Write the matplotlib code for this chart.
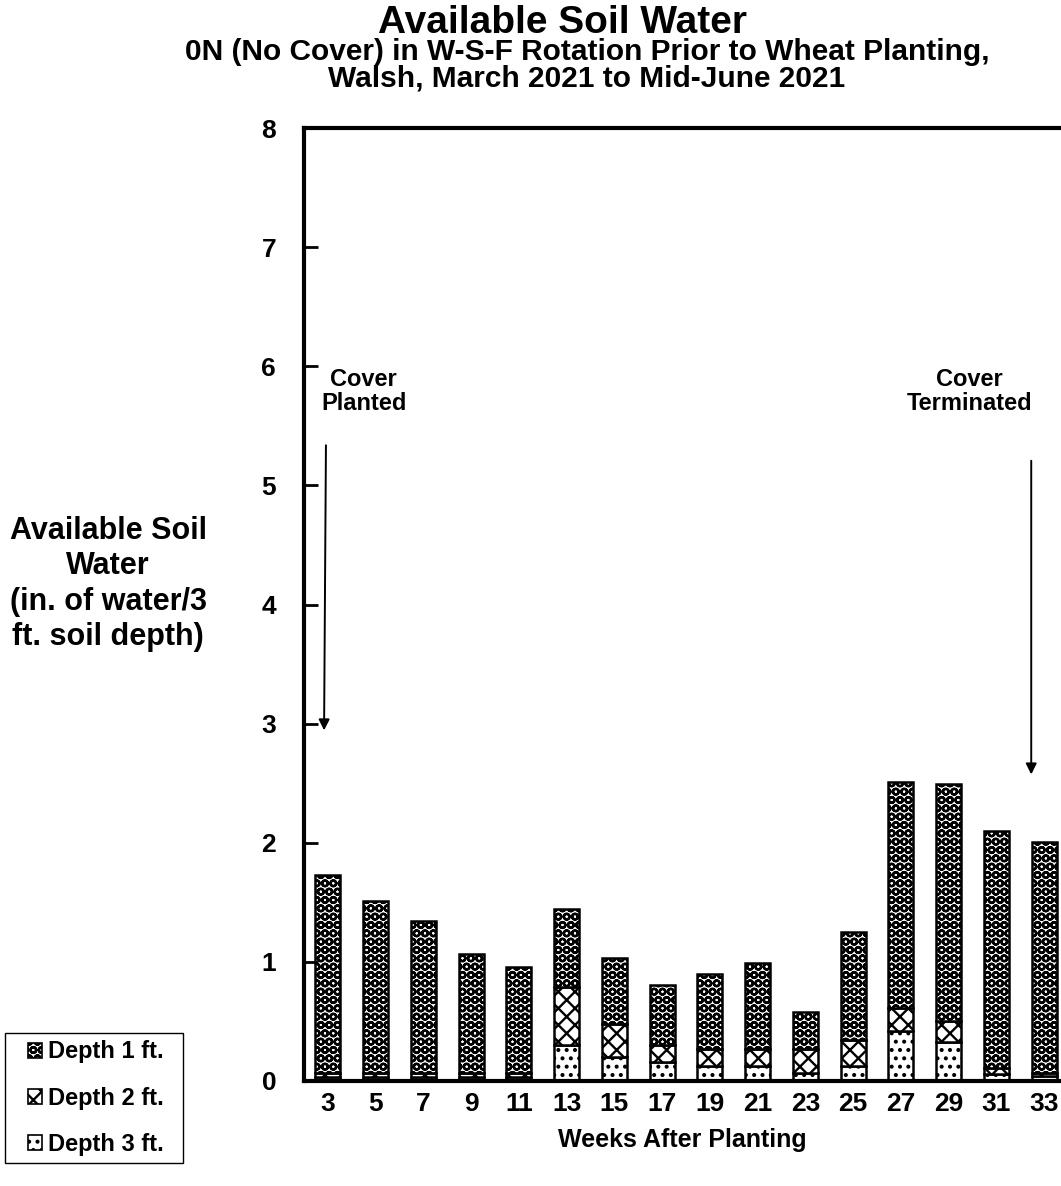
import matplotlib
matplotlib.use("Agg")
import matplotlib.pyplot as plt
from matplotlib.patches import Patch, Rectangle
import numpy as np

plt.rcParams['font.family'] = ['Liberation Sans', 'DejaVu Sans']
plt.rcParams['font.weight'] = 'bold'
plt.rcParams['hatch.linewidth'] = 1.7

# Weeks after planting and available soil water (in.) per depth layer
weeks = ["3", "5", "7", "9", "11", "13", "15", "17", "19", "21", "23", "25", "27", "29", "31", "33"]
depth3 = [0.03, 0.03, 0.03, 0.03, 0.03, 0.30, 0.20, 0.16, 0.13, 0.13, 0.07, 0.13, 0.42, 0.33, 0.06, 0.04]
depth2 = [0.04, 0.04, 0.04, 0.04, 0.04, 0.49, 0.28, 0.14, 0.14, 0.14, 0.20, 0.21, 0.19, 0.17, 0.05, 0.03]
depth1 = [1.66, 1.44, 1.27, 1.00, 0.89, 0.65, 0.55, 0.51, 0.63, 0.72, 0.31, 0.91, 1.90, 1.99, 1.99, 1.94]

series_names = ["Depth 1 ft.", "Depth 2 ft.", "Depth 3 ft."]
hatches = {"Depth 1 ft.": "OO", "Depth 2 ft.": "xx", "Depth 3 ft.": ".."}

W, H = 1061, 1186
fig = plt.figure(figsize=(W / 100, H / 100), dpi=100)
ax = fig.add_axes([304 / W, (H - 1081) / H, 764 / W, 953 / H])

x = np.arange(len(weeks))
bw = 0.52
d3 = np.array(depth3)
d2 = np.array(depth2)
d1 = np.array(depth1)
ax.bar(x, d3, bw, color="white", edgecolor="black", linewidth=1.8, hatch=hatches["Depth 3 ft."])
ax.bar(x, d2, bw, bottom=d3, color="white", edgecolor="black", linewidth=1.8, hatch=hatches["Depth 2 ft."])
ax.bar(x, d1, bw, bottom=d3 + d2, color="white", edgecolor="black", linewidth=1.8, hatch=hatches["Depth 1 ft."])

ax.set_xlim(-0.5, len(weeks) - 0.5)
ax.set_ylim(0, 8)
ax.set_yticks(range(0, 9))
ax.set_xticks(x)
ax.set_xticklabels(weeks, fontsize=19, fontweight="bold")
ax.tick_params(axis="x", length=0, pad=8)
ax.tick_params(axis="y", direction="in", length=10, width=2, labelsize=19, pad=20)
for lab in ax.get_yticklabels():
    lab.set_fontweight("bold")
for side in ("left", "top", "bottom"):
    ax.spines[side].set_linewidth(3)
ax.spines["right"].set_visible(False)

# Event annotations
ax.annotate("", xy=(-0.08, 2.92), xytext=(-0.04, 5.36),
            arrowprops=dict(arrowstyle="-|>", color="black", lw=1.4, mutation_scale=16))
ax.text(0.75, 5.79, "Cover\nPlanted", ha="center", va="center", fontsize=17,
        fontweight="bold", linespacing=1.05)
ax.annotate("", xy=(14.73, 2.55), xytext=(14.73, 5.23),
            arrowprops=dict(arrowstyle="-|>", color="black", lw=1.4, mutation_scale=16))
ax.text(13.44, 5.79, "Cover\nTerminated", ha="center", va="center", fontsize=17,
        fontweight="bold", linespacing=1.05)

# Titles and axis labels
fig.text(562 / W, 1 - 33 / H, "Available Soil Water", ha="center", va="baseline",
         fontsize=28, fontweight="bold")
fig.text(587 / W, 1 - 38 / H,
         "0N (No Cover) in W-S-F Rotation Prior to Wheat Planting,\nWalsh, March 2021 to Mid-June 2021",
         ha="center", va="top", fontsize=21.5, fontweight="bold", linespacing=0.95)
fig.text(108 / W, 1 - 584 / H, "Available Soil\nWater\n(in. of water/3\nft. soil depth)",
         ha="center", va="center", fontsize=22, fontweight="bold", linespacing=1.22)
fig.text(682 / W, 1 - 1140 / H, "Weeks After Planting", ha="center", va="center",
         fontsize=18, fontweight="bold")

# Legend with a separately drawn frame
fig.patches.append(Rectangle((5 / W, (H - 1163) / H), 178 / W, 130 / H,
                             transform=fig.transFigure, facecolor="white",
                             edgecolor="black", linewidth=1.0, zorder=0))
handles = [Patch(facecolor="white", edgecolor="black", hatch=hatches[n], linewidth=1.2)
           for n in series_names]
leg = fig.legend(handles, series_names, loc="center left",
                 bbox_to_anchor=(28 / W, 1 - 1098 / H), frameon=False,
                 fontsize=17, handlelength=0.6, handleheight=0.6,
                 handletextpad=0.25, labelspacing=0.98, borderpad=0, borderaxespad=0)
for t in leg.get_texts():
    t.set_fontweight("bold")

fig.savefig("out.png", dpi=100)
